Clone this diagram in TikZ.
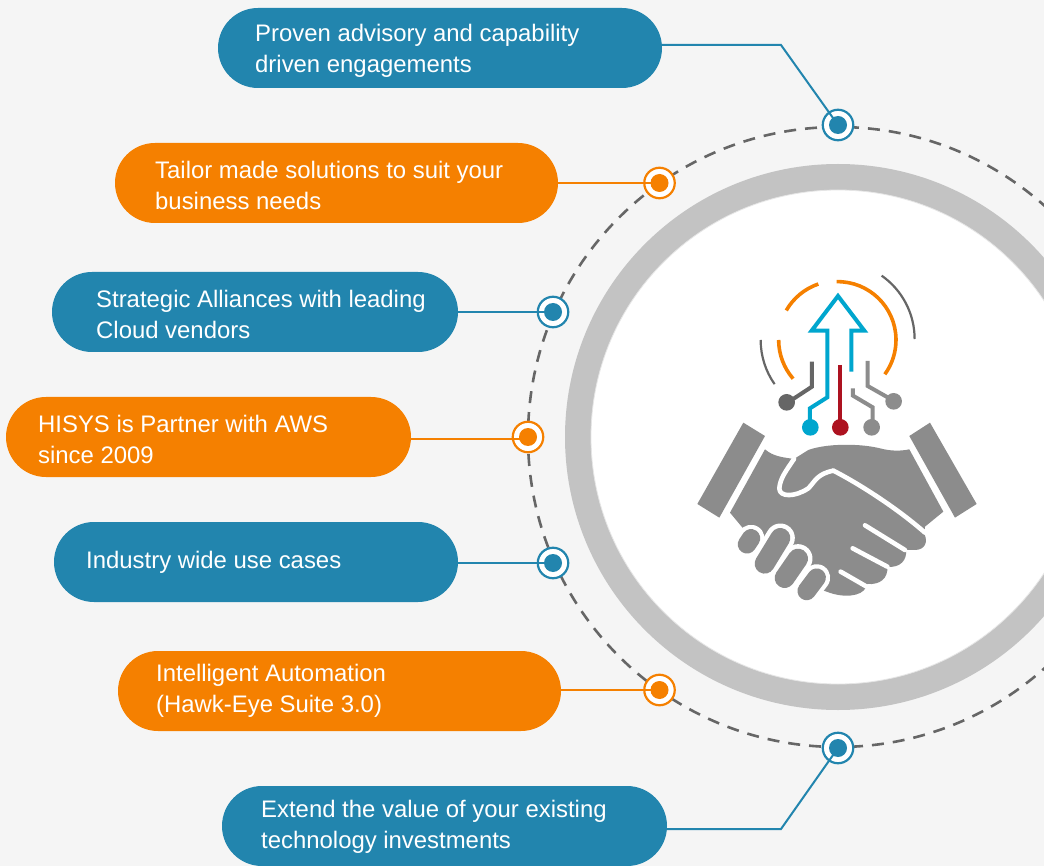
\documentclass[tikz,border=0pt]{standalone}
\usepackage{fontspec}
\setmainfont{Liberation Sans}
\definecolor{bluep}{HTML}{2285AE}
\definecolor{orangep}{HTML}{F58000}
\definecolor{bgp}{HTML}{F5F5F5}
\definecolor{ringp}{HTML}{C3C3C3}
\definecolor{dashp}{HTML}{666666}
\definecolor{handp}{HTML}{8C8C8C}
\definecolor{cyanp}{HTML}{00A6CE}
\definecolor{redp}{HTML}{AD1220}
\tikzset{
  pillbase/.style={draw=none,minimum height=80pt,rounded corners=40pt,inner sep=0pt},
  bluepill/.style={pillbase,fill=bluep},
  orangepill/.style={pillbase,fill=orangep},
  pilltext/.style={anchor=west,align=left,text=white,inner sep=0pt,font=\fontsize{23.9}{30.8}\selectfont},
  bluering/.style={circle,draw=bluep,line width=2.2pt,fill=white,minimum size=30.5pt,inner sep=0pt},
  orangering/.style={circle,draw=orangep,line width=2.2pt,fill=white,minimum size=30.5pt,inner sep=0pt},
  bluedot/.style={circle,fill=bluep,minimum size=18pt,inner sep=0pt},
  orangedot/.style={circle,fill=orangep,minimum size=18pt,inner sep=0pt},
  blueline/.style={draw=bluep,line width=2pt},
  orangeline/.style={draw=orangep,line width=2pt},
  fingerw/.style={line cap=round,line join=round,draw=white,line width=29pt},
  fingerg/.style={line cap=round,line join=round,draw=handp,line width=20pt},
  cutw/.style={draw=white,line cap=round,line join=round,line width=4.6pt},
  icon/.style={line width=4pt,line join=miter},
}
\begin{document}
\begin{tikzpicture}[x=1pt,y=-1pt]
\useasboundingbox (0,0) rectangle (1044,866);
\clip (0,0) rectangle (1044,866);
\fill[bgp] (0,0) rectangle (1044,866);
% big circle
\draw[dashp,line width=2.6pt,dash pattern=on 12pt off 9pt] (838,437) circle[radius=310];
\fill[ringp] (838,437) circle[radius=273];
\fill[white] (838,437) circle[radius=247];
\draw[black!10,line width=.8pt] (838,437) circle[radius=247];
% pills
\node[bluepill,minimum width=444pt] (p1) at (440,48) {};
\node[orangepill,minimum width=443pt] (p2) at (336.5,183) {};
\node[bluepill,minimum width=406pt] (p3) at (255,312) {};
\node[orangepill,minimum width=405pt] (p4) at (208.5,437) {};
\node[bluepill,minimum width=404pt] (p5) at (256,562) {};
\node[orangepill,minimum width=443pt] (p6) at (339.5,691) {};
\node[bluepill,minimum width=445pt] (p7) at (444.5,826) {};
\node[pilltext] (t1) at (255,50.8) {Proven advisory and capability\\driven engagements};
\node[pilltext] (t2) at (155,185.5) {Tailor made solutions to suit your\\business needs};
\node[pilltext] (t3) at (96,314.2) {Strategic Alliances with leading\\Cloud vendors};
\node[pilltext] (t4) at (38,439.5) {HISYS is Partner with AWS\\since 2009};
\node[pilltext] (t5) at (86,562) {Industry wide use cases};
\node[pilltext] (t6) at (156,691.2) {Intelligent Automation\\(Hawk-Eye Suite 3.0)};
\node[pilltext] (t7) at (261,827.2) {Extend the value of your existing\\technology investments};
% markers
\node[bluering] (r1) at (838,125) {};
\node[orangering] (r2) at (659.5,183) {};
\node[bluering] (r3) at (553,312) {};
\node[orangering] (r4) at (528,437) {};
\node[bluering] (r5) at (553,563) {};
\node[orangering] (r6) at (659.5,690) {};
\node[bluering] (r7) at (838,748) {};
\node[bluedot] (d1) at (838,125) {};
\node[orangedot] (d2) at (659.5,183) {};
\node[bluedot] (d3) at (553,312) {};
\node[orangedot] (d4) at (528,437) {};
\node[bluedot] (d5) at (553,563) {};
\node[orangedot] (d6) at (659.5,690) {};
\node[bluedot] (d7) at (838,748) {};
\coordinate (b1) at (781,45);
\coordinate (b7) at (781,829);
\draw[blueline] (p1.east |- b1) -- (b1) -- (d1.center);
\draw[orangeline] (p2.east) -- (d2.center);
\draw[blueline] (p3.east) -- (d3.center);
\draw[orangeline] (p4.east |- 0,439) -- (d4.center |- 0,439);
\draw[blueline] (p5.east |- d5) -- (d5.center);
\draw[orangeline] (p6.east |- d6) -- (d6.center);
\draw[blueline] (p7.east |- b7) -- (b7) -- (d7.center);
% handshake, in crop units
\begin{scope}[shift={(680,410)},x=.3333pt,y=-.3333pt]
\fill[handp] (190,38) -- (255,78) -- (118,323) -- (52,282) -- cycle;
\fill[handp] (750,38) -- (688,78) -- (825,323) -- (890,282) -- cycle;
\fill[handp] (255,118) .. controls (280,140) and (310,142) .. (342,147)
  -- (385,120) .. controls (440,100) and (540,100) .. (600,115)
  .. controls (630,123) and (660,124) .. (688,118)
  -- (790,305) -- (735,350) -- (733,372)
  .. controls (745,395) and (735,420) .. (705,420) -- (678,420)
  .. controls (682,450) and (660,475) .. (622,470)
  .. controls (625,505) and (600,525) .. (562,522)
  -- (558,532) .. controls (545,560) and (490,565) .. (440,545)
  -- (300,500) -- (185,350) -- (150,308) -- cycle;
\draw[cutw] (342,147) .. controls (320,180) and (300,205) .. (298,235)
  .. controls (298,262) and (345,262) .. (385,235)
  .. controls (405,215) and (410,192) .. (460,182);
\draw[cutw] (460,182) .. controls (520,212) and (640,285) .. (735,368);
\draw[cutw] (555,346) -- (675,420);
\draw[cutw] (518,415) -- (622,470);
\draw[cutw] (482,485) -- (560,530);
\draw[fingerw,line width=27pt] (213,385) -- (201,403);
\draw[fingerw] (301,384) -- (254,461);
\draw[fingerw] (354,446) -- (314,504);
\draw[fingerw,line width=27pt] (410,503) -- (380,543);
\draw[fingerg,line width=18.5pt] (213,385) -- (201,403);
\draw[fingerg] (301,384) -- (254,461);
\draw[fingerg] (354,446) -- (314,504);
\draw[fingerg,line width=18.5pt] (410,503) -- (380,543);
\end{scope}
% tech icon, in crop units
\begin{scope}[shift={(680,260)},x=.3333pt,y=-.3333pt]
\draw[orangep,line width=3.6pt] (470,65) arc[start angle=-91,end angle=36,radius=175];
\draw[orangep,line width=3.6pt] (415,72) arc[start angle=-109,end angle=-150,radius=178];
\draw[orangep,line width=3.6pt] (296,240) arc[start angle=180,end angle=139,radius=177];
\draw[dashp,line width=2.2pt] (605,47) arc[start angle=-55,end angle=0,radius=232];
\draw[dashp,line width=2.2pt] (242,240) arc[start angle=180,end angle=145,radius=231];
\draw[cyanp,icon] (514,335) -- (514,212) -- (553,212) -- (474,108) -- (395,212) -- (442,212) -- (442,412) -- (390,445) -- (390,490);
\fill[cyanp] (391,502) circle[radius=25];
\draw[redp,icon] (480,315) -- (480,490);
\fill[redp] (481,502) circle[radius=25];
\draw[dashp,icon] (396,305) -- (396,380) -- (335,420);
\fill[dashp] (320,427) circle[radius=25];
\draw[handp,icon] (563,303) -- (563,378) -- (630,416);
\fill[handp] (641,424) circle[radius=25];
\draw[handp,icon] (519,385) -- (519,407) -- (578,442) -- (578,490);
\fill[handp] (575,502) circle[radius=25];
\end{scope}
\end{tikzpicture}
\end{document}
